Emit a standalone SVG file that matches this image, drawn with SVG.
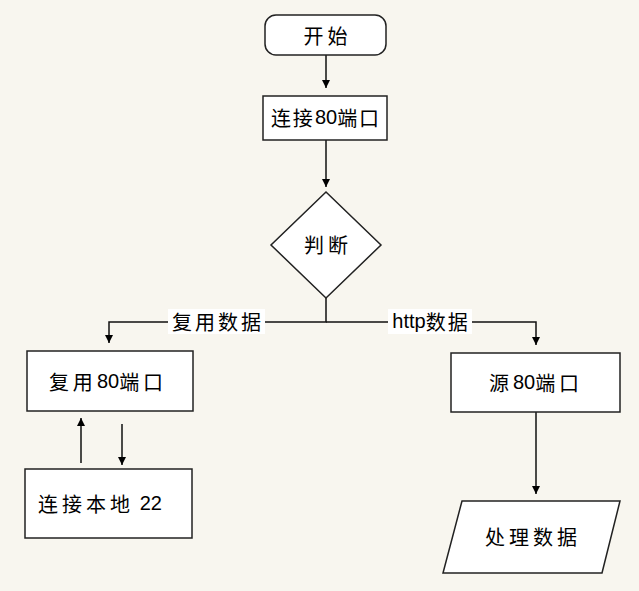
<svg xmlns="http://www.w3.org/2000/svg" width="639" height="591" viewBox="0 0 639 591">
<defs>
<marker id="arr" markerWidth="10" markerHeight="10" refX="9" refY="5" orient="auto" markerUnits="userSpaceOnUse">
<path d="M1,1 L9,5 L1,9 z" fill="#000"/>
</marker>
<style>
.shape{fill:#fff;stroke:#222;stroke-width:1.5}
.t{font-family:"Noto Sans CJK SC","Liberation Sans",sans-serif;font-size:20px;fill:#000;text-anchor:middle;dominant-baseline:central;letter-spacing:4px}
.lbl{font-family:"Noto Sans CJK SC","Liberation Sans",sans-serif;font-size:20px;fill:#000;text-anchor:middle;dominant-baseline:central;letter-spacing:3px}
.d{letter-spacing:0px;font-family:"Liberation Sans",sans-serif}
.c{fill:none;stroke:#111;stroke-width:1.5}
.lb{fill:#fff}
</style>
</defs>
<rect x="0" y="0" width="639" height="591" fill="#f8f6ef"/>
<g id="connectors">
<line class="c" x1="326" y1="55" x2="326" y2="88" marker-end="url(#arr)"/>
<line class="c" x1="326" y1="140" x2="326" y2="187" marker-end="url(#arr)"/>
<polyline class="c" points="326,298 326,322 109,322 109,343" marker-end="url(#arr)"/>
<polyline class="c" points="326,322 536,322 536,345" marker-end="url(#arr)"/>
<line class="c" x1="81" y1="463" x2="81" y2="418" marker-end="url(#arr)"/>
<line class="c" x1="122" y1="424" x2="122" y2="465" marker-end="url(#arr)"/>
<line class="c" x1="536" y1="412" x2="536" y2="494" marker-end="url(#arr)"/>
<rect class="lb" x="168" y="309" width="97" height="25"/>
<text class="lbl" x="218" y="321">复用数据</text>
<rect class="lb" x="388" y="309" width="84" height="25"/>
<text class="lbl" x="431" y="321" style="letter-spacing:2px"><tspan class="d">http</tspan>数据</text>
</g>
<g id="start">
<rect class="shape" x="265" y="15" width="121" height="40" rx="11" ry="11"/>
<text class="t" x="327.5" y="35">开始</text>
</g>
<g id="connect80">
<rect class="shape" x="263" y="96" width="124" height="44"/>
<text class="t" x="326" y="117" style="letter-spacing:2px">连接<tspan class="d">80</tspan>端口</text>
</g>
<g id="decide">
<polygon class="shape" points="326,192 381,245 326,298 271,245"/>
<text class="t" x="328" y="244">判断</text>
</g>
<g id="reuse80">
<rect class="shape" x="27" y="351" width="166" height="60"/>
<text class="t" x="108" y="381">复用<tspan class="d">80</tspan>端口</text>
</g>
<g id="local22">
<rect class="shape" x="25" y="469" width="167" height="69"/>
<text class="t" x="100" y="503">连接本地<tspan class="d"> 22</tspan></text>
</g>
<g id="src80">
<rect class="shape" x="451" y="353" width="169" height="59"/>
<text class="t" x="536" y="382">源<tspan class="d">80</tspan>端口</text>
</g>
<g id="process">
<polygon class="shape" points="462,501 620,501 602,573 443,573"/>
<text class="t" x="533" y="536">处理数据</text>
</g>
</svg>
